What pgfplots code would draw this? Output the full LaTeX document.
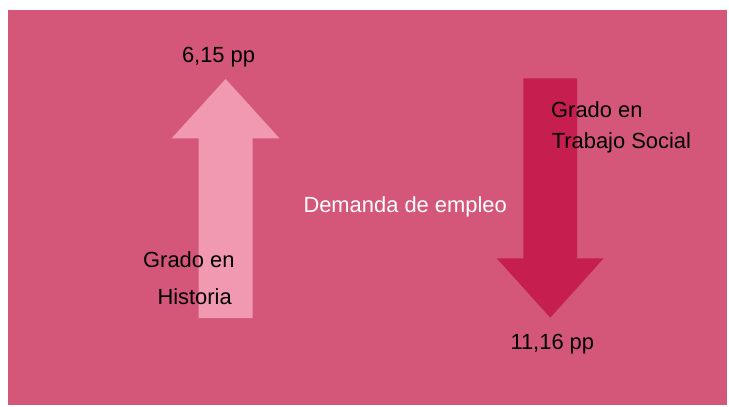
\documentclass[border=0pt]{standalone}
\usepackage{fontspec}
\setmainfont{Liberation Sans}
\usepackage{pgfplots}
\pgfplotsset{compat=1.18}
\definecolor{bgpink}{RGB}{212,87,122}
\definecolor{lightarrow}{RGB}{240,153,177}
\definecolor{darkarrow}{RGB}{199,30,80}
\tikzset{lbl/.style={font=\fontsize{21.9}{24}\selectfont, inner sep=0pt, outer sep=0pt, anchor=base west}}
\begin{document}
\begin{tikzpicture}
\begin{axis}[
  width=729pt, height=407pt, scale only axis,
  xmin=0, xmax=729, ymin=0, ymax=407, y dir=reverse,
  axis lines=none, ticks=none, clip=false,
]
% white page
\addplot[draw=none, fill=white] coordinates {(0,0) (729,0) (729,407) (0,407)} -- cycle;
% pink panel
\addplot[draw=none, fill=bgpink] coordinates {(8,10) (727,10) (727,405) (8,405)} -- cycle;
% up arrow (Historia)
\addplot[draw=none, fill=lightarrow] coordinates {
  (225.6,79) (279.5,138.3) (252.7,138.3) (252.7,318) (198.5,318) (198.5,138.3) (171.7,138.3)} -- cycle;
% down arrow (Trabajo Social)
\addplot[draw=none, fill=darkarrow] coordinates {
  (523.3,78.3) (577,78.3) (577,258.3) (603.7,258.3) (550.3,317.7) (496.7,258.3) (523.3,258.3)} -- cycle;
% labels
\node[lbl, text=black] at (axis cs:182,62.3) {6,15 pp};
\node[lbl, text=black] at (axis cs:143.2,267.7) {Grado en};
\node[lbl, text=black] at (axis cs:157.5,304.3) {Historia};
\node[lbl, text=white] at (axis cs:303.5,212.3) {Demanda de empleo};
\node[lbl, text=black] at (axis cs:551.2,117.3) {Grado en};
\node[lbl, text=black] at (axis cs:551.8,148.3) {Trabajo Social};
\node[lbl, text=black] at (axis cs:510.5,349.3) {11,16 pp};
\end{axis}
\end{tikzpicture}
\end{document}
